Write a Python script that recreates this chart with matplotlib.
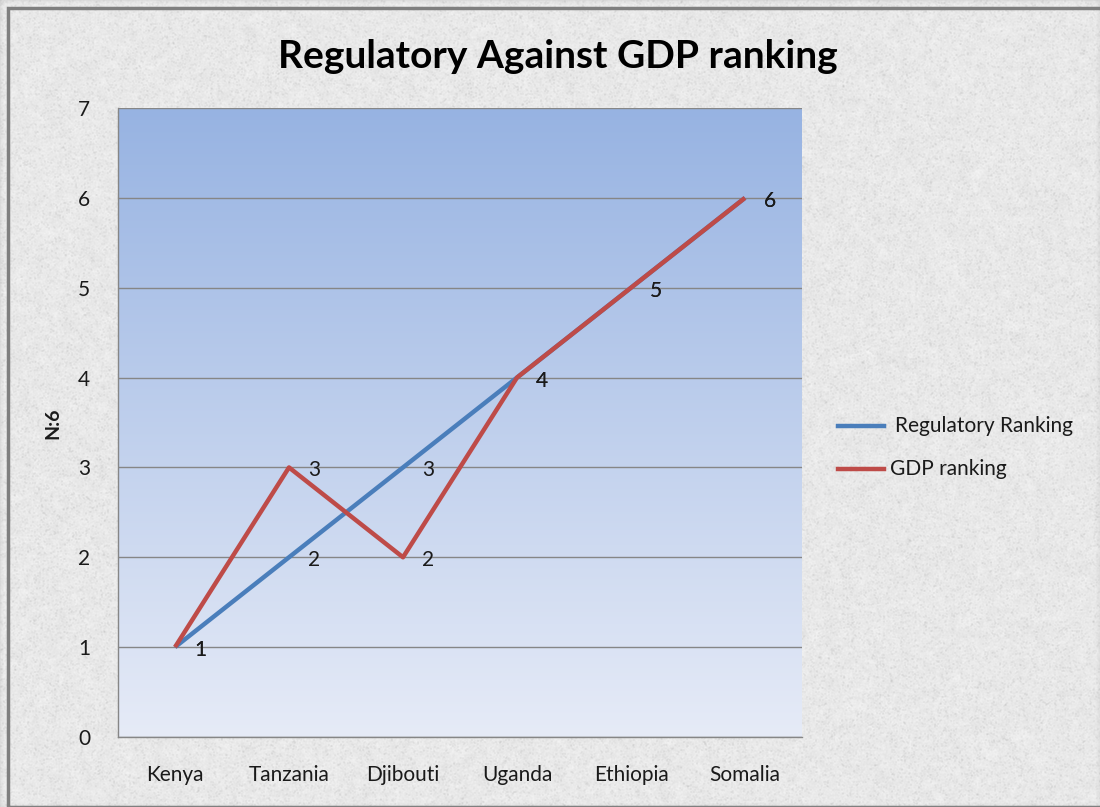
import numpy as np
import matplotlib.pyplot as plt
from matplotlib.patches import Rectangle

countries = ['Kenya', 'Tanzania', 'Djibouti', 'Uganda', 'Ethiopia', 'Somalia']
regulatory_rank = [1, 2, 3, 4, 5, 6]
gdp_rank = [1, 3, 2, 4, 5, 6]
series_names = ['Regulatory Ranking', 'GDP ranking']

BLUE = '#4a7ebb'
RED = '#be4b48'
INK = '#1a1a1a'

plt.rcParams['font.family'] = ['Lato', 'DejaVu Sans']

W, H = 1100, 807
fig = plt.figure(figsize=(W / 100, H / 100), dpi=100)


def smooth(a, k):
    # cheap box blur along both axes
    ker = np.ones(k) / k
    a = np.apply_along_axis(lambda r: np.convolve(r, ker, mode='same'), 1, a)
    a = np.apply_along_axis(lambda c: np.convolve(c, ker, mode='same'), 0, a)
    return a


# granite-like paper behind everything
rng = np.random.default_rng(7)
fine = smooth(rng.random((H, W)), 2)
coarse = smooth(rng.random((H, W)), 9)
tex = 0.915 + 0.06 * (fine - 0.5) + 0.18 * (coarse - 0.5)
flecks = smooth((rng.random((H, W)) > 0.94).astype(float), 2)
tex = tex - 0.10 * flecks
tex = np.clip(tex, 0.68, 0.98)
bg = fig.add_axes([0, 0, 1, 1], zorder=-10)
bg.imshow(np.dstack([tex, tex, tex]), aspect='auto', extent=[0, 1, 0, 1])
bg.set_axis_off()
fig.patches.append(Rectangle((8 / W, 0), 1.2, 1 - 8 / H, transform=fig.transFigure,
                             fill=False, edgecolor='#7f7f7f', linewidth=2.5))

# plot area
left, right, top, bottom = 118, 802, 108, 737
ax = fig.add_axes([left / W, 1 - bottom / H, (right - left) / W, (bottom - top) / H])
ax.patch.set_alpha(0)
grad = np.linspace(0, 1, 256)[:, None, None]
c_top = np.array([0x97, 0xb3, 0xe2]) / 255
c_bot = np.array([0xe6, 0xeb, 0xf7]) / 255
img = c_top * (1 - grad) + c_bot * grad
ax.imshow(img, aspect='auto', extent=[0, 1, 0, 1], transform=ax.transAxes, zorder=0)

x = np.arange(len(countries))
ax.plot(x, regulatory_rank, color=BLUE, linewidth=3.2, zorder=3, solid_capstyle='butt')
ax.plot(x, gdp_rank, color=RED, linewidth=3.2, zorder=4, solid_capstyle='butt')

for series in (regulatory_rank, gdp_rank):
    for xi, v in zip(x, series):
        ax.annotate(str(v), (xi, v), xytext=(19, -3), textcoords='offset pixels',
                    ha='left', va='center', fontsize=15, color=INK, zorder=5)

ax.set_xlim(-0.5, len(countries) - 0.5)
ax.set_ylim(0, 7)
ax.set_yticks(range(8))
ax.set_xticks(x)
ax.set_xticklabels(countries)
ax.tick_params(length=0, labelsize=15, colors=INK)
ax.tick_params(axis='x', pad=20)
ax.tick_params(axis='y', pad=20)
ax.grid(axis='y', color='#868686', linewidth=1)
ax.set_axisbelow(False)
for g in ax.get_ygridlines():
    g.set_zorder(2)
for s in ('top', 'right'):
    ax.spines[s].set_visible(False)
for s in ('left', 'bottom'):
    ax.spines[s].set_color('#868686')
    ax.spines[s].set_linewidth(1)

fig.text(53 / W, 1 - 423 / H, 'N:6', rotation=90, ha='center', va='center',
         fontsize=14, fontweight='bold', color=INK)
fig.text(558 / W, 1 - 56 / H, 'Regulatory Against GDP ranking', ha='center', va='center',
         fontsize=28, fontweight='bold', color='black')

# legend to the right of the plot area, drawn by hand
for name, color, y, tx in zip(series_names, (BLUE, RED), (426, 469), (895, 890)):
    fig.add_artist(plt.Line2D([838 / W, 884 / W], [1 - y / H, 1 - y / H],
                              color=color, linewidth=3.2, transform=fig.transFigure))
    fig.text(tx / W, 1 - y / H, name, ha='left', va='center', fontsize=15, color=INK)

fig.savefig('out.png', dpi=100)
